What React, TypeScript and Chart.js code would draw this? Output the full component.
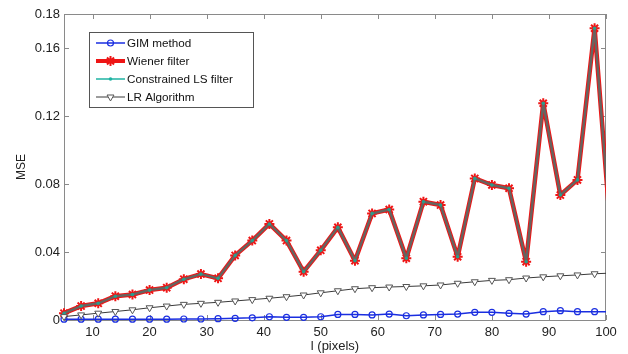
import React, { useEffect, useRef } from "react";
import { Chart, registerables } from "chart.js";
import { drawPoint } from "chart.js/helpers";

Chart.register(...registerables);

const pixelSizes = [5, 8, 11, 14, 17, 20, 23, 26, 29, 32, 35, 38, 41, 44, 47, 50, 53, 56, 59, 62, 65, 68, 71, 74, 77, 80, 83, 86, 89, 92, 95, 98, 101];

const gimMse = [0.0005, 0.0005, 0.0005, 0.0005, 0.0005, 0.0005, 0.0005, 0.0006, 0.0006, 0.0008, 0.001, 0.0013, 0.0019, 0.0016, 0.0016, 0.0019, 0.0033, 0.0033, 0.003, 0.0035, 0.0025, 0.003, 0.0033, 0.0035, 0.0045, 0.0045, 0.0039, 0.0035, 0.0049, 0.0055, 0.0049, 0.0049, 0.0049];

const wienerMse = [0.004, 0.0082, 0.0098, 0.014, 0.015, 0.0176, 0.019, 0.024, 0.027, 0.0245, 0.038, 0.0467, 0.0565, 0.0467, 0.0284, 0.041, 0.0545, 0.0349, 0.0627, 0.065, 0.0363, 0.0696, 0.0676, 0.0372, 0.0833, 0.0794, 0.0775, 0.0343, 0.1275, 0.0735, 0.0824, 0.1716, 0.044];

const constrainedLsMse = [0.004, 0.0082, 0.0098, 0.014, 0.015, 0.0176, 0.019, 0.024, 0.027, 0.0245, 0.038, 0.0467, 0.0565, 0.0467, 0.0284, 0.041, 0.0545, 0.0349, 0.0627, 0.065, 0.0363, 0.0696, 0.0676, 0.0372, 0.0833, 0.0794, 0.0775, 0.0343, 0.1275, 0.0735, 0.0824, 0.1716, 0.044];

const lrMse = [0.002, 0.003, 0.004, 0.005, 0.006, 0.0072, 0.0082, 0.0092, 0.0098, 0.0104, 0.0112, 0.012, 0.0128, 0.0137, 0.0147, 0.016, 0.0172, 0.0184, 0.019, 0.0194, 0.0197, 0.0201, 0.0206, 0.0216, 0.0225, 0.0233, 0.0237, 0.0247, 0.0254, 0.026, 0.0265, 0.0272, 0.0276];

const xTickValues = [10, 20, 30, 40, 50, 60, 70, 80, 90, 100];
const yTickValues = [0, 0.04, 0.08, 0.12, 0.16, 0.18];

const seriesNames = ["GIM method", "Wiener filter", "Constrained LS filter", "LR Algorithm"];
const xTitle = "l (pixels)";
const yTitle = "MSE";

const FONT = "'Liberation Sans', Arial, sans-serif";
const BLUE = "#1a2ee0";
const RED = "#ee1515";
const TEAL = "#1fb3a3";
const CORE = "#676460";
const GRAYLINE = "#3a3a3a";
const AXIS = "#8a8a8a";

const toPoints = (vals: number[]) => vals.map((v, i) => ({ x: pixelSizes[i], y: v }));
const CLIP = { left: 10, top: 10, right: 0, bottom: 10 };

const matlabPlugin = {
  id: "matlabAxes",
  beforeDatasetsDraw(chart: any) {
    const { ctx, chartArea } = chart;
    const { left, right, top, bottom } = chartArea;
    const xs = chart.scales.x;
    const ys = chart.scales.y;
    ctx.save();
    ctx.strokeStyle = AXIS;
    ctx.lineWidth = 1;
    ctx.strokeRect(Math.round(left) + 0.5, Math.round(top) + 0.5, Math.round(right - left) - 1, Math.round(bottom - top));
    ctx.beginPath();
    xTickValues.forEach((v) => {
      const px = Math.round(xs.getPixelForValue(v)) + 0.5;
      ctx.moveTo(px, bottom);
      ctx.lineTo(px, bottom - 5);
      ctx.moveTo(px, top);
      ctx.lineTo(px, top + 5);
    });
    yTickValues.forEach((v) => {
      const py = Math.round(ys.getPixelForValue(v)) + 0.5;
      ctx.moveTo(left, py);
      ctx.lineTo(left + 5, py);
      ctx.moveTo(right, py);
      ctx.lineTo(right - 5, py);
    });
    ctx.stroke();
    ctx.restore();
  },
  afterDraw(chart: any) {
    const { ctx, chartArea } = chart;
    ctx.save();
    ctx.fillStyle = "#222";
    ctx.font = `12px ${FONT}`;
    ctx.textAlign = "center";
    ctx.textBaseline = "middle";
    ctx.save();
    ctx.translate(22, (chartArea.top + chartArea.bottom) / 2);
    ctx.rotate(-Math.PI / 2);
    ctx.fillText(yTitle, 0, 0);
    ctx.restore();
    ctx.font = `13px ${FONT}`;
    ctx.fillText(xTitle, (chartArea.left + chartArea.right) / 2, 346);

    const bx = 89.5, by = 32.5, bw = 164, bh = 75;
    ctx.fillStyle = "#ffffff";
    ctx.fillRect(bx, by, bw, bh);
    ctx.strokeStyle = "#555";
    ctx.lineWidth = 1;
    ctx.strokeRect(bx, by, bw, bh);
    const rows = [43, 61, 79, 97];
    const x0 = 96, x1 = 125, xm = 110.5;
    const styles = [
      { color: BLUE, width: 1.5, point: { pointStyle: "circle", radius: 3, borderWidth: 1.2, rotation: 0 }, stroke: BLUE, fill: "rgba(0,0,0,0)" },
      { color: RED, width: 4, point: { pointStyle: "star", radius: 5, borderWidth: 2, rotation: 0 }, stroke: RED, fill: RED },
      { color: TEAL, width: 1.5, point: { pointStyle: "circle", radius: 1.8, borderWidth: 0, rotation: 0 }, stroke: TEAL, fill: TEAL },
      { color: GRAYLINE, width: 1, point: { pointStyle: "triangle", radius: 4, borderWidth: 1, rotation: 180 }, stroke: "#555", fill: "#fff" },
    ];
    styles.forEach((s, i) => {
      const y = rows[i];
      ctx.strokeStyle = s.color;
      ctx.lineWidth = s.width;
      ctx.beginPath();
      ctx.moveTo(x0, y);
      ctx.lineTo(x1, y);
      ctx.stroke();
      ctx.strokeStyle = s.stroke;
      ctx.fillStyle = s.fill;
      ctx.lineWidth = s.point.borderWidth || 1;
      drawPoint(ctx, s.point as any, xm, y);
    });
    ctx.fillStyle = "#111";
    ctx.font = `11.7px ${FONT}`;
    ctx.textAlign = "left";
    ctx.textBaseline = "middle";
    seriesNames.forEach((n, i) => ctx.fillText(n, 127, rows[i] + 0.5));
    ctx.restore();
  },
};

export default function App() {
  const ref = useRef<HTMLCanvasElement | null>(null);
  useEffect(() => {
    document.body.style.margin = "0";
    if (!ref.current) return;
    const chart = new Chart(ref.current, {
      type: "line",
      data: {
        datasets: [
          {
            label: seriesNames[0],
            data: toPoints(gimMse),
            borderColor: BLUE,
            borderWidth: 1.5,
            pointStyle: "circle",
            pointRadius: 3,
            pointBorderWidth: 1.2,
            pointBorderColor: BLUE,
            pointBackgroundColor: "rgba(0,0,0,0)",
            order: 4,
            clip: CLIP as any,
          },
          {
            label: seriesNames[1],
            data: toPoints(wienerMse),
            borderColor: RED,
            borderWidth: 4.5,
            borderJoinStyle: "round",
            pointStyle: "star",
            pointRadius: 5,
            pointBorderWidth: 2,
            pointBorderColor: RED,
            pointBackgroundColor: RED,
            order: 3,
            clip: CLIP as any,
          },
          {
            label: seriesNames[2],
            data: toPoints(constrainedLsMse),
            borderColor: CORE,
            borderWidth: 2.5,
            borderJoinStyle: "round",
            pointStyle: "circle",
            pointRadius: 1.8,
            pointBorderWidth: 0,
            pointBackgroundColor: "#2a9d8c",
            order: 2,
            clip: CLIP as any,
          },
          {
            label: seriesNames[3],
            data: toPoints(lrMse),
            borderColor: GRAYLINE,
            borderWidth: 1,
            pointStyle: "triangle",
            rotation: 180,
            pointRadius: 4,
            pointBorderWidth: 1,
            pointBorderColor: "#555",
            pointBackgroundColor: "#ffffff",
            order: 1,
            clip: CLIP as any,
          },
        ] as any,
      },
      options: {
        animation: false,
        responsive: true,
        maintainAspectRatio: false,
        layout: { padding: { top: 14, right: 22, left: 0, bottom: 0 } },
        plugins: { legend: { display: false }, tooltip: { enabled: false } },
        elements: { line: { tension: 0 } },
        scales: {
          x: {
            type: "linear",
            min: 5,
            max: 100,
            afterBuildTicks: (s: any) => {
              s.ticks = xTickValues.map((v) => ({ value: v }));
            },
            afterFit: (s: any) => {
              s.height = 34;
            },
            grid: { display: false, drawTicks: false },
            border: { display: false },
            ticks: {
              font: { size: 13, family: FONT },
              color: "#222",
              padding: 5,
              maxRotation: 0,
              autoSkip: false,
              callback: (v: any) => String(v),
            },
          },
          y: {
            type: "linear",
            min: 0,
            max: 0.18,
            afterBuildTicks: (s: any) => {
              s.ticks = yTickValues.map((v) => ({ value: v }));
            },
            afterFit: (s: any) => {
              s.width = 64;
            },
            grid: { display: false, drawTicks: false },
            border: { display: false },
            ticks: {
              font: { size: 13, family: FONT },
              color: "#222",
              padding: 4,
              autoSkip: false,
              callback: (v: any) => (v === 0 ? "0" : Number(v).toFixed(2)),
            },
          },
        },
      },
      plugins: [matlabPlugin],
    });
    return () => chart.destroy();
  }, []);
  return (
    <div style={{ width: 628, height: 354, position: "relative", background: "#fff" }}>
      <canvas ref={ref} />
    </div>
  );
}
